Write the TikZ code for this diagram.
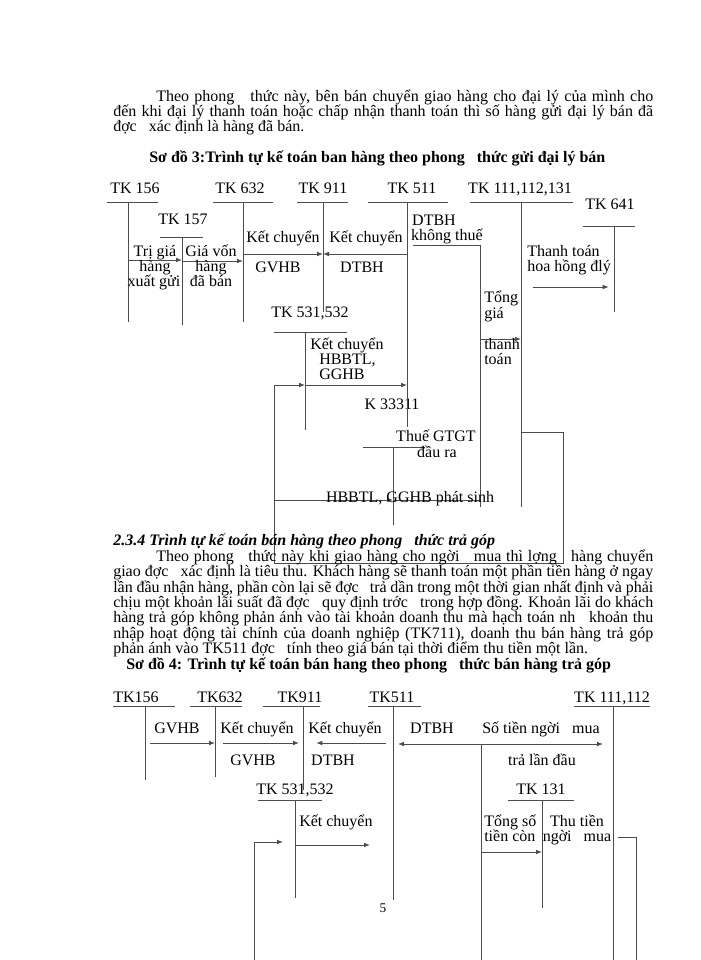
\documentclass[tikz,border=0pt]{standalone}
\usepackage{fontspec}
\setmainfont{Liberation Serif}
\usepackage{tikz}
\usetikzlibrary{arrows.meta}

\tikzset{
  lbl/.style={inner sep=0.75pt, text height=8.5pt, text depth=2.5pt, font=\fontsize{12}{14}\selectfont},
  ln/.style={line width=0.6pt, color=black!70},
  arr/.style={ln, -{Latex[length=4.5pt,width=3.5pt]}},
  darr/.style={ln, {Latex[length=4.5pt,width=3.5pt]}-{Latex[length=4.5pt,width=3.5pt]}},
}

\begin{document}
\begin{tikzpicture}[x=0.75pt,y=0.75pt,yscale=-1,xscale=1]
\useasboundingbox (0,0) rectangle (700,960);

% Text Node
\node[lbl, anchor=west] (pa1) at (155,97) {\makebox[372.75pt][s]{Theo phong~~~thức này, bên bán chuyển giao hàng cho đại lý của mình cho}};
\node[lbl, anchor=west] (pa2) at (112,112) {\makebox[405pt][s]{đến khi đại lý thanh toán hoặc chấp nhận thanh toán thì số hàng gửi đại lý bán đã}};
\node[lbl, anchor=west] (pa3) at (112,127) {đợc~~~xác định là hàng đã bán.};
% Text Node
\node[lbl, anchor=west] (title3) at (148,158) {\bfseries Sơ đồ 3:Trình tự kế toán ban hàng theo phong~~~thức gửi đại lý bán};

%Accounts
\node[lbl] (tk156) at (135,189) {TK 156};
\node[lbl] (tk157) at (183,220) {TK 157};
\node[lbl] (tk632) at (240,189) {TK 632};
\node[lbl] (tk911) at (323,189) {TK 911};
\node[lbl] (tk511) at (412,189) {TK 511};
\node[lbl] (tk111) at (520,189) {TK 111,112,131};
\node[lbl] (tk641) at (610,205) {TK 641};
\node[lbl] (tk531) at (310,313) {TK 531,532};
\node[lbl] (tk333) at (392,405) {K 33311};

\coordinate (v156) at (128,202);
\coordinate (v157) at (182,237);
\coordinate (v632) at (243,202);
\coordinate (v911) at (323,202);
\coordinate (v511) at (407,202);
\coordinate (v111) at (521,202);
\coordinate (v641) at (614,226);
\coordinate (v531) at (305,332);
\coordinate (v333) at (393,447);

%Straight Lines
\draw[ln] (107,202) -- (158,202) (v156) -- ++(0,120);
\draw[ln] (160,237) -- (203,237) (v157) -- ++(0,88);
\draw[ln] (213,202) -- (273,202) (v632) -- ++(0,120);
\draw[ln] (297,202) -- (348,202) (v911) -- ++(0,110);
\draw[ln] (368,202) -- (448,202) (v511) -- ++(0,225);
\draw[ln] (470,202) -- (573,202) (v111) -- ++(0,305);
\draw[ln] (583,226) -- (635,226) (v641) -- ++(0,86);
\draw[ln] (274,332) -- (347,332) (v531) -- ++(0,98);
\draw[ln] (363,447) -- (425,447) (v333) -- ++(0,78);

%Arrows
\coordinate (a1) at (128,260);
\coordinate (a2) at (182,261);
\coordinate (a3) at (243,254);
\coordinate (a4) at (407,254);
\coordinate (a5) at (305,385);
\coordinate (a6) at (533,287);
\coordinate (a7) at (413,245);
\coordinate (a8) at (480,245);
\coordinate (a9) at (480,507);
\coordinate (a10) at (480,339);
\coordinate (a11) at (274,500);
\coordinate (a12) at (521,432);
\coordinate (a13) at (563,563);
\coordinate (a14) at (274,385);
\draw[arr] (a1) -- (v157 |- a1);
\draw[arr] (a2) -- (v632 |- a2);
\draw[arr] (a3) -- (v911 |- a3);
\draw[arr] (a4) -- (v911 |- a4);
\draw[arr] (a5) -- (v511 |- a5);
\draw[arr] (a6) -- ([xshift=-4]v641 |- a6);
\draw[ln] (a7) -- (a8) -- (a9);
\draw[arr] (a10) -- (v111 |- a10);
\draw[ln] (v333 |- a11) -- (a9 |- a11);
\draw[arr] (a11) -- (v333 |- a11);
\draw[arr] (a12) -- (a13 |- a12) -- (a13) -- (a14 |- a13) -- (a14) -- (v531 |- a14);

% Text Node
\node[lbl] (trg1) at (155,252) {Trị giá};
\node[lbl] (trg2) at (155,267) {hàng};
\node[lbl] (trg3) at (154,282) {xuất gửi};
\node[lbl] (gv1) at (211,252) {Giá vốn};
\node[lbl] (gv2) at (211,267) {hàng};
\node[lbl] (gv3) at (211,282) {đã bán};
\node[lbl] (kc1) at (283,238) {Kết chuyển};
\node[lbl] (kc1b) at (278,268) {GVHB};
\node[lbl] (kc2) at (366,238) {Kết chuyển};
\node[lbl] (kc2b) at (362,268) {DTBH};
\node[lbl] (dt1) at (434,221) {DTBH};
\node[lbl] (dt2) at (447,236) {không thuế};
\node[lbl, anchor=west] (hh1) at (526,252) {Thanh toán};
\node[lbl, anchor=west] (hh2) at (526,267) {hoa hồng đlý};
\node[lbl, anchor=west] (tg1) at (483,298) {Tổng};
\node[lbl, anchor=west] (tg2) at (483,314) {giá};
\node[lbl, anchor=west] (tg3) at (483,345) {thanh};
\node[lbl, anchor=west] (tg4) at (483,360) {toán};
\node[lbl, anchor=west] (hb1) at (309,345) {Kết chuyển};
\node[lbl, anchor=west] (hb2) at (318,360) {HBBTL,};
\node[lbl, anchor=west] (hb3) at (318,375) {GGHB};
\node[lbl] (vat1) at (436,437) {Thuế GTGT};
\node[lbl] (vat2) at (437,453) {đầu ra};
\node[lbl] (ps) at (410,498) {HBBTL, GGHB phát sinh};

% Text Node
\node[lbl, anchor=west] (sec) at (112,541) {\bfseries\itshape 2.3.4 Trình tự kế toán bán hàng theo phong~~~thức trả góp};
\node[lbl, anchor=west] (pb1) at (155,557) {\makebox[372.75pt][s]{Theo phong~~~thức này khi giao hàng cho ngời~~~mua thì lợng~~~hàng chuyển}};
\node[lbl, anchor=west] (pb2) at (112,572) {\makebox[405pt][s]{giao đợc~~~xác định là tiêu thu. Khách hàng sẽ thanh toán một phần tiền hàng ở ngay}};
\node[lbl, anchor=west] (pb3) at (112,588) {\makebox[405pt][s]{lần đầu nhận hàng, phần còn lại sẽ đợc~~~trả dần trong một thời gian nhất định và phải}};
\node[lbl, anchor=west] (pb4) at (112,603) {\makebox[405pt][s]{chịu một khoản lãi suất đã đợc~~~quy định trớc~~~trong hợp đồng. Khoản lãi do khách}};
\node[lbl, anchor=west] (pb5) at (112,618) {\makebox[405pt][s]{hàng trả góp không phản ánh vào tài khoản doanh thu mà hạch toán nh~~~khoản thu}};
\node[lbl, anchor=west] (pb6) at (112,634) {\makebox[405pt][s]{nhập hoạt động tài chính của doanh nghiệp (TK711), doanh thu bán hàng trả góp}};
\node[lbl, anchor=west] (pb7) at (112,649) {phản ánh vào TK511 đợc~~~tính theo giá bán tại thời điểm thu tiền một lần.};
\node[lbl, anchor=west] (title4) at (125,665) {\bfseries Sơ đồ 4: Trình tự kế toán bán hang theo phong~~~thức bán hàng trả góp};

%Accounts
\node[lbl] (m156) at (136,698) {TK156};
\node[lbl] (m632) at (220,698) {TK632};
\node[lbl] (m911) at (300,698) {TK911};
\node[lbl] (m511) at (392,698) {TK511};
\node[lbl] (m111) at (612,698) {TK 111,112};
\node[lbl] (m531) at (295,790) {TK 531,532};
\node[lbl] (m131) at (541,790) {TK 131};

\coordinate (w156) at (145,706);
\coordinate (w632) at (215,706);
\coordinate (w911) at (303,706);
\coordinate (w511) at (393,706);
\coordinate (w111) at (613,706);
\coordinate (w531) at (295,800);
\coordinate (w131) at (542,800);

%Straight Lines
\draw[ln] (113,706) -- (175,706) (w156) -- ++(0,74);
\draw[ln] (190,706) -- (242,706) (w632) -- ++(0,71);
\draw[ln] (263,706) -- (320,706) (w911) -- ++(0,84);
\draw[ln] (368,706) -- (421,706) (w511) -- ++(0,194);
\draw[ln] (574,706) -- (650,706) (w111) -- ++(0,254);
\draw[ln] (258,800) -- (322,800) (w531) -- ++(0,98);
\draw[ln] (508,800) -- (574,800) (w131) -- ++(0,108);

%Arrows
\coordinate (b1) at (150,743);
\coordinate (b2) at (223,743);
\coordinate (b3) at (386,743);
\coordinate (b4) at (398,744);
\coordinate (b5) at (603,744);
\coordinate (b6) at (481,744);
\coordinate (b7) at (481,960);
\coordinate (b8) at (370,845);
\coordinate (b9) at (254,960);
\coordinate (b10) at (283,842);
\coordinate (b11) at (481,852);
\coordinate (b12) at (618,837);
\coordinate (b13) at (636,960);
\draw[arr] (b1) -- (w632 |- b1);
\draw[arr] (b2) -- ([xshift=-3]w911 |- b2);
\draw[arr] (b3) -- ([xshift=10]w911 |- b3);
\draw[darr] (b4) -- (b5);
\draw[ln] (b6) -- (b7);
\draw[arr] (w531 |- b8) -- (b8);
\draw[arr] (b9) -- (b9 |- b10) -- (b10);
\draw[arr] (b11) -- (w131 |- b11);
\draw[ln] (b12) -- (b13 |- b12) -- (b13);

% Text Node
\node[lbl] (gvhb) at (177,729) {GVHB};
\node[lbl] (kc3) at (257,729) {Kết chuyển};
\node[lbl] (kc3b) at (253,761) {GVHB};
\node[lbl] (kc4) at (345,729) {Kết chuyển};
\node[lbl] (kc4b) at (333,761) {DTBH};
\node[lbl] (dtbh) at (432,729) {DTBH};
\node[lbl] (stm1) at (541,729) {Số tiền ngời~~~mua};
\node[lbl] (stm2) at (542,761) {trả lần đầu};
\node[lbl, anchor=west] (kc5) at (298,822) {Kết chuyển};
\node[lbl, anchor=west] (ts1) at (483,822) {Tổng số};
\node[lbl, anchor=west] (ts2) at (483,837) {tiền còn};
\node[lbl] (tt1) at (577,822) {Thu tiền};
\node[lbl] (tt2) at (577,837) {ngời~~~mua};
\node[lbl, font=\fontsize{10}{12}\selectfont] (pg) at (383,908) {5};

\end{tikzpicture}
\end{document}
